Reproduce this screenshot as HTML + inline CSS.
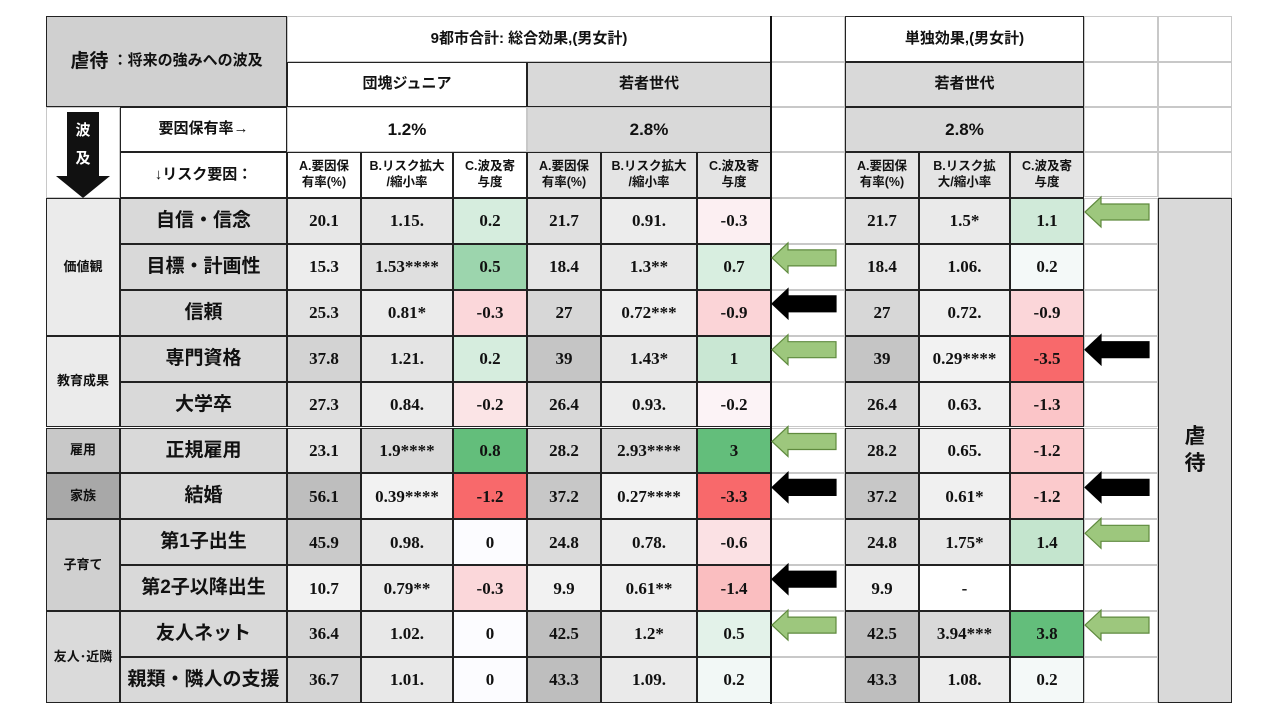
<!DOCTYPE html>
<html><head><meta charset="utf-8">
<style>
body{margin:0;background:#fff;width:1280px;height:720px;overflow:hidden;position:relative;font-family:"Liberation Sans","Noto Sans CJK JP",sans-serif;}
.c{position:absolute;box-sizing:border-box;display:flex;align-items:center;justify-content:center;text-align:center;font-weight:bold;color:#111;line-height:1.25;}
.g{border:1px solid #c8c8c8;}
.k{border:1px solid #222;}
.num{font-family:"Liberation Serif","Noto Serif CJK SC",serif;font-size:17px;}
.jp{font-family:"Liberation Sans","Noto Sans CJK JP",sans-serif;}
</style></head><body>
<div id="root"></div>
<svg id="arrows" width="1280" height="720" style="position:absolute;left:0;top:0;pointer-events:none"></svg>
<script>
const factors=["自信・信念","目標・計画性","信頼","専門資格","大学卒","正規雇用","結婚","第1子出生","第2子以降出生","友人ネット","親類・隣人の支援"];
const t1A=[20.1,15.3,25.3,37.8,27.3,23.1,56.1,45.9,10.7,36.4,36.7];
const t1B=["1.15.","1.53****","0.81*","1.21.","0.84.","1.9****","0.39****","0.98.","0.79**","1.02.","1.01."];
const t1C=[0.2,0.5,-0.3,0.2,-0.2,0.8,-1.2,0,-0.3,0,0];
const t2A=[21.7,18.4,27,39,26.4,28.2,37.2,24.8,9.9,42.5,43.3];
const t2B=["0.91.","1.3**","0.72***","1.43*","0.93.","2.93****","0.27****","0.78.","0.61**","1.2*","1.09."];
const t2C=[-0.3,0.7,-0.9,1,-0.2,3,-3.3,-0.6,-1.4,0.5,0.2];
const t3A=[21.7,18.4,27,39,26.4,28.2,37.2,24.8,9.9,42.5,43.3];
const t3B=["1.5*","1.06.","0.72.","0.29****","0.63.","0.65.","0.61*","1.75*","-","3.94***","1.08."];
const t3C=[1.1,0.2,-0.9,-3.5,-1.3,-1.2,-1.2,1.4,null,3.8,0.2];
const arrowsMid=[0,1,-1,1,0,1,-1,0,-1,1,0];
const arrowsRight=[1,0,0,-1,0,0,-1,1,0,1,0];
const groups=[["価値観",0,3,"#ebebeb"],["教育成果",3,2,"#ebebeb"],["雇用",5,1,"#c8c8c8"],["家族",6,1,"#a8a8a8"],["子育て",7,2,"#d0d0d0"],["友人･近隣",9,2,"#dadada"]];

const root=document.getElementById('root');
function cell(x,y,w,h,txt,cls,bg,fs,name){
  const d=document.createElement('div');
  d.className='c '+cls;
  d.style.left=x+'px';d.style.top=y+'px';d.style.width=w+'px';d.style.height=h+'px';
  if(bg)d.style.background=bg;
  if(fs)d.style.fontSize=fs+'px';
  d.innerHTML=txt;
  
  
  root.appendChild(d);return d;
}
function mix(a,b,t){t=Math.max(0,Math.min(1,t));const r=[0,1,2].map(i=>Math.round(a[i]+(b[i]-a[i])*t));return `rgb(${r[0]},${r[1]},${r[2]})`;}
function cColor(v,arr){if(v===null)return '#fff';const mx=Math.max(...arr.filter(x=>x!==null)),mn=Math.min(...arr.filter(x=>x!==null));
  if(v>0)return mix([252,252,255],[99,190,123],v/mx);if(v<0)return mix([252,252,255],[248,105,107],v/mn);return '#fcfcff';}
function grayScale(v,arr,lo,hi){const mx=Math.max(...arr),mn=Math.min(...arr);const t=(v-mn)/(mx-mn);return mix([lo,lo,lo],[hi,hi,hi],t);}
function bNum(s){const n=parseFloat(s);return isNaN(n)?1:n;}

const top0=198,rh=45.9;
// background grid light
for(let x of [1084,1158])for(let i=0;i<15;i++){}
// header left
cell(46,16,241,91,'<span style="font-size:19px">虐待</span>&nbsp;：将来の強みへの波及','k jp','#d0d0d0',15,'table-title');
cell(46,107,74,91,'','g','#fff',0,'ripple-arrow-cell');
cell(120,107,167,45,'要因保有率→','k jp','#fff',15,'prevalence-label');
cell(120,152,167,46,'↓リスク要因：','k jp','#fff',15,'risk-factor-label');
// table headers
cell(287,16,484,46,'9都市合計: 総合効果,(男女計)','g jp','#fff',15,'total-effect-header');
cell(287,62,240,45,'団塊ジュニア','k jp','#fff',15,'dankai-junior-header');
cell(527,62,244,45,'若者世代','k jp','#d9d9d9',15,'youth-header');
cell(287,107,240,45,'1.2%','g','#fff',17,'dankai-prevalence');
cell(527,107,244,45,'2.8%','g','#d9d9d9',17,'youth-prevalence');
cell(845,16,239,46,'単独効果,(男女計)','k jp','#fff',15,'single-effect-header');
cell(845,62,239,45,'若者世代','k jp','#d9d9d9',15,'single-youth-header');
cell(845,107,239,45,'2.8%','k','#d9d9d9',17,'single-prevalence');
const subs=[['A.要因保<br>有率(%)',74],['B.リスク拡大<br>/縮小率',92],['C.波及寄<br>与度',74]];
const subs3=[['A.要因保<br>有率(%)',74],['B.リスク拡<br>大/縮小率',91],['C.波及寄<br>与度',74]];
function subHead(x0,s,bg,prefix){let x=x0;s.forEach((p,i)=>{cell(x,152,p[1],46,p[0],'k jp',bg,12.5,prefix+'-subheader-'+'abc'[i]);x+=p[1];});}
subHead(287,subs,'#fff','t1');
subHead(527,[['A.要因保<br>有率(%)',74],['B.リスク拡大<br>/縮小率',96],['C.波及寄<br>与度',74]],'#e4e4e4','t2');
subHead(845,subs3,'#e4e4e4','t3');
// empty grid cells
for(let i=0;i<11;i++){const y=top0+i*rh;
  const e1=cell(771,y,74,rh,'','g','#fff',0,'spacer-cell');
  const e2=cell(1084,y,74,rh,'','g','#fff',0,'spacer-cell');}
for(let y of [16,62,107,152]){cell(771,y,74,y===152?46:(y===16?46:45),'','g','#fff',0,'spacer-cell');cell(1084,y,74,y===16?46:45,'','g','#fff',0,'spacer-cell');cell(1158,y,74,y===16?46:(y===152?46:45),'','g','#fff',0,'spacer-cell');}
// groups
groups.forEach(g=>{cell(46,top0+g[1]*rh,74,g[2]*rh,g[0],'k jp',g[3],13,'group-label');});
// rows
function table(x0,A,B,C,ws,p){
  factors.forEach((f,i)=>{const y=top0+i*rh;let x=x0;
    cell(x,y,ws[0],rh,String(A[i]),'k num',grayScale(A[i],A,242,190),0,p+'-prevalence-'+i);x+=ws[0];
    cell(x,y,ws[1],rh,B[i],'k num',B[i]==='-'?'#fff':grayScale(bNum(B[i]),B.map(bNum),242,217),0,p+'-risk-ratio-'+i);x+=ws[1];
    cell(x,y,ws[2],rh,C[i]===null?'':String(C[i]),'k num',cColor(C[i],C),0,p+'-contribution-'+i);
  });
}
factors.forEach((f,i)=>{cell(120,top0+i*rh,167,rh,f,'k jp','#d9d9d9',19,'factor-'+i);});
table(287,t1A,t1B,t1C,[74,92,74],'t1');
table(527,t2A,t2B,t2C,[74,96,74],'t2');
table(845,t3A,t3B,t3C,[74,91,74],'t3');
const lab=cell(1158,198,74,505,'虐<br>待','k jp','#d9d9d9',21,'abuse-label');
// thick separator
const sep=document.createElement('div');
sep.style.cssText='position:absolute;left:770px;top:16px;width:2px;height:688px;background:#111';


root.appendChild(sep);

const svg=document.getElementById('arrows');const NS='http://www.w3.org/2000/svg';
// down arrow
const da=document.createElementNS(NS,'polygon');
da.setAttribute('points','67,112 99,112 99,176 110,176 83,198 56,176 67,176');
da.setAttribute('fill','#111');


svg.appendChild(da);
[['波',135],['及',163]].forEach(t=>{const tx=document.createElementNS(NS,'text');tx.setAttribute('x',83);tx.setAttribute('y',t[1]);tx.setAttribute('fill','#fff');tx.setAttribute('font-size','15');tx.setAttribute('font-weight','bold');tx.setAttribute('text-anchor','middle');tx.setAttribute('font-family','Noto Sans CJK JP, sans-serif');tx.textContent=t[0];


svg.appendChild(tx);});
function arrow(x,yc,dir){
  if(!dir)return;
  const p=document.createElementNS(NS,'polygon');
  const w=64,hh=15,sh=8;
  p.setAttribute('points',`${x},${yc} ${x+16},${yc-hh} ${x+16},${yc-sh} ${x+w},${yc-sh} ${x+w},${yc+sh} ${x+16},${yc+sh} ${x+16},${yc+hh}`);
  p.setAttribute('fill',dir>0?'#9dc77d':'#000');
  p.setAttribute('stroke',dir>0?'#5f8a3e':'#000');
  p.setAttribute('stroke-width','1.2');
  
  
  svg.appendChild(p);
}
arrowsMid.forEach((d,i)=>arrow(772,top0+i*rh+14,d));
arrowsRight.forEach((d,i)=>arrow(1085,top0+i*rh+14,d));
</script>
</body></html>
